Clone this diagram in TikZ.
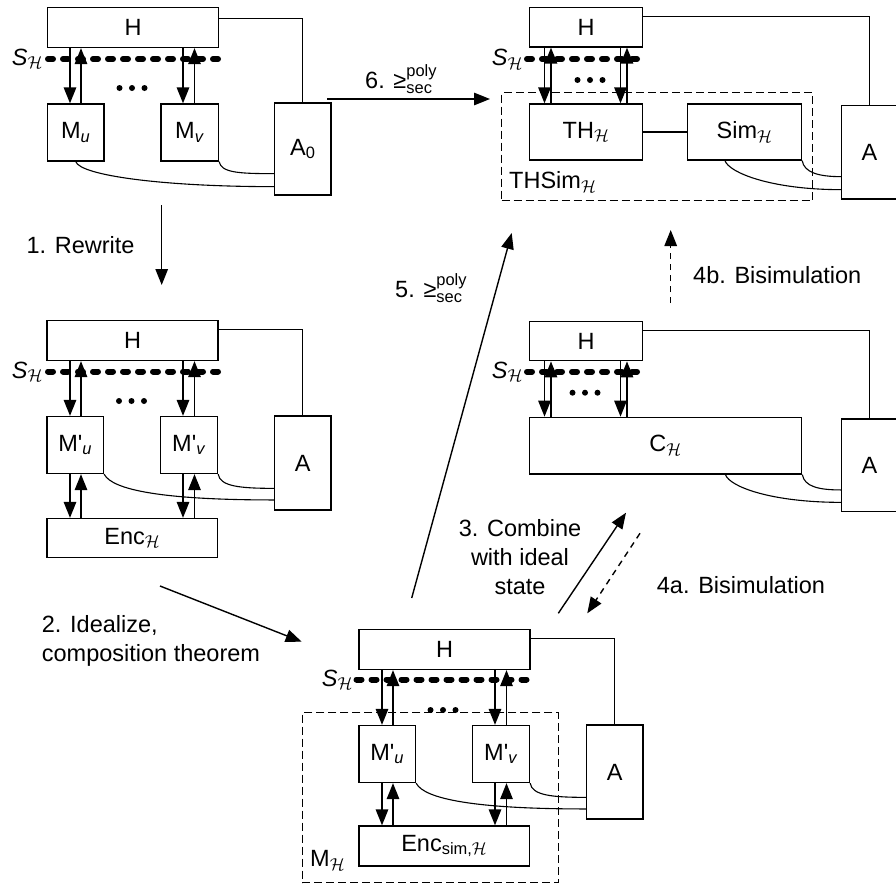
\documentclass[tikz,border=0pt]{standalone}
\usepackage{amsmath}
\usepackage{fontspec}
\setmainfont{Liberation Sans}
\usetikzlibrary{arrows.meta,calc}

\newcommand{\boxfont}{\fontsize{23.5}{27}\selectfont}
\newcommand{\lblfont}{\fontsize{23.5}{29}\selectfont}
\newcommand{\calH}{\ensuremath{\mathcal{H}}}
\newcommand{\polysec}{$\text{≥}^{\text{poly}}_{\text{sec}}$}

\begin{document}
\begin{tikzpicture}[x=1pt, y=-1pt,
  box/.style={draw, line width=1.3pt, inner sep=0pt, font=\boxfont},
  grp/.style={draw, line width=1.2pt, dash pattern=on 8pt off 4pt, inner sep=0pt},
  sline/.style={line width=6pt, dash pattern=on 5pt off 10pt, line cap=round},
  arr/.style={-{Triangle[length=16pt,width=12.5pt]}, line width=1.4pt},
  dasharr/.style={arr, dash pattern=on 6pt off 5pt},
  link/.style={line width=1.1pt},
  lbl/.style={font=\lblfont, inner sep=0pt, align=center},
  slbl/.style={font=\boxfont, inner sep=0pt, anchor=base east},
]
\useasboundingbox (0,0) rectangle (896,886);

% --- top left: real system
\node[box, minimum width=171pt, minimum height=40pt] (Ha) at (133,27.5) {H};
\node[box, minimum width=56.5pt, minimum height=57pt] (Mua) at (75.75,132.5) {M\textsubscript{\textit{u}}};
\node[box, minimum width=57.5pt, minimum height=57pt] (Mva) at (189.75,132.5) {M\textsubscript{\textit{v}}};
\node[box, minimum width=56.5pt, minimum height=92pt] (Aa) at (302.75,149) {A\textsubscript{0}};
\draw[sline] (48,59) -- (220,59);
\node[slbl] (Sa) at (43,65) {\textit{S}\textsubscript{\calH}};
\foreach \x in {119.5,132,144.5} \fill (\x,88) circle (3pt);
\foreach \m/\d/\u in {Mua/70/81, Mva/183/194.5}{
  \draw[arr] (Ha.south -| \d,0) -- (\m.north -| \d,0);
  \draw[arr] (\m.north -| \u,0) -- (Ha.south -| \u,0);
}
\draw[link] ($(Ha.north east)+(0,11.5)$) -| (Aa.north);
\draw[link] (Mua.south) .. controls +(5,14) and +(-110,0) .. ($(Aa.south west)+(0,-9)$);
\draw[link] (Mva.south east) .. controls +(2,11) and +(-35,0) .. ($(Aa.south west)+(0,-22)$);

% --- middle left: rewritten
\node[box, minimum width=171pt, minimum height=40pt] (Hb) at (132.5,340.5) {H};
\node[box, minimum width=56.5pt, minimum height=57pt] (Mub) at (75.25,445) {M\textquotesingle\textsubscript{\textit{u}}};
\node[box, minimum width=57pt, minimum height=57pt] (Mvb) at (189,445) {M\textquotesingle\textsubscript{\textit{v}}};
\node[box, minimum width=56.5pt, minimum height=94pt] (Ab) at (302.75,463) {A};
\node[box, minimum width=170.5pt, minimum height=39pt] (Encb) at (132.25,538) {Enc\textsubscript{\calH}};
\draw[sline] (48,371.5) -- (220,371.5);
\node[slbl] (Sb) at (43,378) {\textit{S}\textsubscript{\calH}};
\foreach \x in {119,131.5,144} \fill (\x,401) circle (3pt);
\foreach \m/\d/\u in {Mub/70/81, Mvb/183/194.5}{
  \draw[arr] (Hb.south -| \d,0) -- (\m.north -| \d,0);
  \draw[arr] (\m.north -| \u,0) -- (Hb.south -| \u,0);
  \draw[arr] (\m.south -| \d,0) -- (Encb.north -| \d,0);
  \draw[arr] (Encb.north -| \u,0) -- (\m.south -| \u,0);
}
\draw[link] ($(Hb.north east)+(0,10)$) -| (Ab.north);
\draw[link] (Mub.south east) .. controls +(8,16) and +(-110,0) .. ($(Ab.south west)+(0,-10.7)$);
\draw[link] (Mvb.south east) .. controls +(2,12) and +(-35,0) .. ($(Ab.south west)+(0,-22.3)$);

% --- bottom: idealized
\node[grp, minimum width=256pt, minimum height=170pt] (MHe) at (430.3,797.7) {};
\node[box, minimum width=171pt, minimum height=40pt] (He) at (444.5,649.5) {H};
\node[box, minimum width=56.5pt, minimum height=57pt] (Mue) at (387.25,754) {M\textquotesingle\textsubscript{\textit{u}}};
\node[box, minimum width=57pt, minimum height=57pt] (Mve) at (501,754) {M\textquotesingle\textsubscript{\textit{v}}};
\node[box, minimum width=56.5pt, minimum height=94pt] (Ae) at (614.75,772) {A};
\node[box, minimum width=170.5pt, minimum height=40pt] (Ence) at (444.25,846) {Enc\textsubscript{sim,\calH}};
\draw[sline] (356.5,679.5) -- (531.5,679.5);
\node[slbl] (Se) at (353,686) {\textit{S}\textsubscript{\calH}};
\foreach \x in {430.5,443,455.5} \fill (\x,710) circle (3pt);
\foreach \m/\d/\u in {Mue/382/393, Mve/495/506.5}{
  \draw[arr] (He.south -| \d,0) -- (\m.north -| \d,0);
  \draw[arr] (\m.north -| \u,0) -- (He.south -| \u,0);
  \draw[arr] (\m.south -| \d,0) -- (Ence.north -| \d,0);
  \draw[arr] (Ence.north -| \u,0) -- (\m.south -| \u,0);
}
\draw[link] ($(He.north east)+(0,10)$) -| (Ae.north);
\draw[link] (Mue.south east) .. controls +(8,16) and +(-110,0) .. ($(Ae.south west)+(0,-10.7)$);
\draw[link] (Mve.south east) .. controls +(2,12) and +(-35,0) .. ($(Ae.south west)+(0,-22.3)$);
\node[font=\boxfont, inner sep=0pt, anchor=base west] (MHl) at (310,866.7) {M\textsubscript{\calH}};

% --- middle right: combined
\node[box, minimum width=113pt, minimum height=39.5pt] (Hc) at (586,341) {H};
\node[box, minimum width=272.4pt, minimum height=56.7pt] (Cc) at (665.5,445.65) {C\textsubscript{\calH}};
\node[box, minimum width=55.3pt, minimum height=92.7pt] (Ac) at (869.35,465.35) {A};
\draw[sline] (527,371.7) -- (644,371.7);
\node[slbl] (Sc) at (523,378) {\textit{S}\textsubscript{\calH}};
\foreach \x in {572.5,585,597.5} \fill (\x,392.7) circle (3pt);
\foreach \d/\u in {544.5/551, 620.5/627}{
  \draw[arr] (Hc.south -| \d,0) -- (Cc.north -| \d,0);
  \draw[arr] (Cc.north -| \u,0) -- (Hc.south -| \u,0);
}
\draw[link] ($(Hc.north east)+(0,10)$) -| (Ac.north);
\draw[link] ($(Cc.south)+(60,0)$) .. controls +(4,12) and +(-70,0) .. ($(Ac.south west)+(0,-10)$);
\draw[link] (Cc.south east) .. controls +(2,12) and +(-22,0) .. ($(Ac.south west)+(0,-22.4)$);

% --- top right: simulated
\node[grp, minimum width=311pt, minimum height=108pt] (THSimd) at (657.2,146.7) {};
\node[box, minimum width=113pt, minimum height=39.5pt] (Hd) at (586,27.25) {H};
\node[box, minimum width=113pt, minimum height=56pt] (THd) at (586,132) {TH\textsubscript{\calH}};
\node[box, minimum width=114pt, minimum height=56pt] (Simd) at (744.5,132) {Sim\textsubscript{\calH}};
\node[box, minimum width=55.3pt, minimum height=93.3pt] (Ad) at (869.35,152.35) {A};
\draw[sline] (527,59) -- (644,59);
\node[slbl] (Sd) at (523,65.5) {\textit{S}\textsubscript{\calH}};
\foreach \x in {577.5,590,602.5} \fill (\x,80) circle (3pt);
\foreach \d/\u in {544.5/551, 620.5/627}{
  \draw[arr] (Hd.south -| \d,0) -- (THd.north -| \d,0);
  \draw[arr] (THd.north -| \u,0) -- (Hd.south -| \u,0);
}
\draw[link] (THd.east) -- (Simd.west);
\draw[link] ($(Hd.north east)+(0,10)$) -| (Ad.north);
\draw[link] ($(Simd.south)+(-19.5,0)$) .. controls +(4,12) and +(-70,0) .. ($(Ad.south west)+(0,-10)$);
\draw[link] (Simd.south east) .. controls +(2,12) and +(-22,0) .. ($(Ad.south west)+(0,-23)$);
\node[font=\boxfont, inner sep=0pt, anchor=base west] (THSiml) at (509,188.3) {THSim\textsubscript{\calH}};

% --- steps between the systems
\coordinate (s1a) at (161.7,205);   \coordinate (s1b) at (161.7,285);
\coordinate (s2a) at (160,586);     \coordinate (s2b) at (301.7,641.7);
\coordinate (s3a) at (558.3,613.3); \coordinate (s3b) at (626,512.7);
\coordinate (s4a) at (640,533.3);   \coordinate (s4b) at (587.3,613.3);
\coordinate (s4c) at (670.7,303);   \coordinate (s4d) at (670.7,230);
\coordinate (s5a) at (411.7,598);   \coordinate (s5b) at (511.7,233);
\coordinate (s6a) at (327,99);      \coordinate (s6b) at (490,99);

\draw[arr] (s1a) -- (s1b);
\draw[arr] (s2a) -- (s2b);
\draw[arr] (s3a) -- (s3b);
\draw[dasharr] (s4a) -- (s4b);
\draw[dasharr] (s4c) -- (s4d);
\draw[arr] (s5a) -- (s5b);
\draw[arr] (s6a) -- (s6b);

\node[lbl] (l1) at (80.5,245) {1. Rewrite};
\node[lbl, align=left, anchor=west] (l2) at (41.7,641.3) {2. Idealize,\\composition theorem};
\node[lbl] (l3) at (520,557) {3. Combine\\with ideal\\state};
\node[lbl, anchor=west] (l4a) at (656.7,585) {4a. Bisimulation};
\node[lbl, anchor=west] (l4b) at (693,275) {4b. Bisimulation};
\node[lbl, anchor=west] (l5) at (395,288) {5. \polysec};
\node[lbl, anchor=west] (l6) at (365,79) {6. \polysec};
\end{tikzpicture}
\end{document}
